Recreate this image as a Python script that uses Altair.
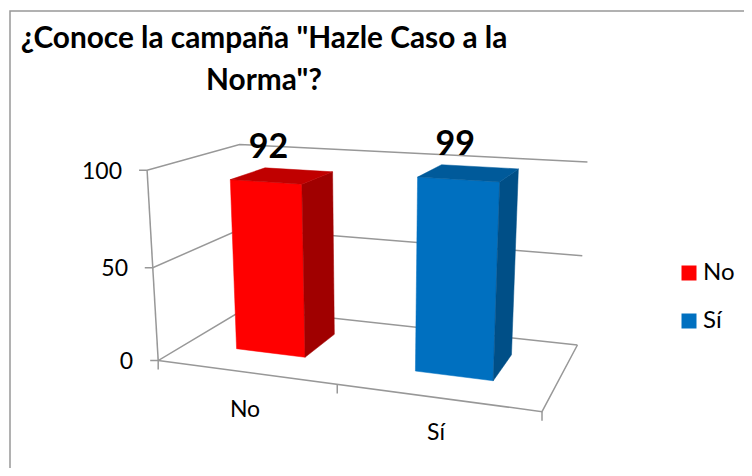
import altair as alt
import numpy as np
import pandas as pd

# ---- chart data ----
categories = ["No", "Sí"]
values = [92, 99]
y_ticks = [0, 50, 100]
title_lines = ['¿Conoce la campaña "Hazle Caso a la', 'Norma"?']
front_colors = ["#FF0000", "#0070C0"]
top_colors = ["#C00000", "#005A9A"]
side_colors = ["#A00000", "#004F87"]
GRID = "#989898"
FONT = "Lato"
XS = alt.Scale(domain=[8, 744], nice=False, zero=False)
YS = alt.Scale(domain=[468, 8], nice=False, zero=False)

# ---- 3D box (category, value, depth) seen on the page: camera fit ----
world = np.array([(0,0,0),(2,0,0),(2,0,1),(0,0,1),(0,100,0),(0,100,1),(2,100,1)], float)
page = np.array([(158.3,360),(542.3,411.7),(577.3,345),(245,309),(146.7,170.7),(240,144),(587.3,162)], float)
rows = []
for (X, Y, Z), (u, v) in zip(world / [1, 100, 1], page / 100):
    rows.append([X, Y, Z, 1, 0, 0, 0, 0, -u*X, -u*Y, -u*Z, -u])
    rows.append([0, 0, 0, 0, X, Y, Z, 1, -v*X, -v*Y, -v*Z, -v])
P = np.linalg.svd(np.array(rows))[2][-1].reshape(3, 4)

def project(c, val, d):
    h = P @ np.array([c, val / 100, d, 1.0])
    return float(h[0] / h[2] * 100), float(h[1] / h[2] * 100)

BAR_HALF = 0.2
DEPTH = (0.31, 0.72)
centers = [0.495, 1.5]

# ---- gray lines ----
segs = []
def seg(*pts):
    sid = len(set(s["s"] for s in segs))
    for i, (x, y) in enumerate(pts):
        segs.append({"s": sid, "i": i, "x": x, "y": y})

seg((10, 468), (10, 11), (744, 11))
seg(project(0, 100, 0), project(0, 0, 0))
for t in y_ticks:
    a = project(0, t, 0)
    seg((a[0] - 8, a[1]), a, project(0, t, 1), project(2, t, 1))
fl, fr, br = project(0, 0, 0), project(2, 0, 0), project(2, 0, 1)
seg(fl, fr, br)
for c in (0, 1, 2):
    a = project(c, 0, 0)
    seg(a, (a[0], a[1] + 9))
lines = (
    alt.Chart(pd.DataFrame(segs))
    .mark_line(color=GRID, strokeWidth=1.5)
    .encode(
        x=alt.X("x:Q", scale=XS, axis=None),
        y=alt.Y("y:Q", scale=YS, axis=None),
        detail="s:N",
        order="i:Q",
    )
)

# ---- bars as faces ----
faces = []
for n, (c, val) in enumerate(zip(centers, values)):
    x0, x1 = c - BAR_HALF, c + BAR_HALF
    z0, z1 = DEPTH
    polys = {
        "front": ([(x0,0,z0),(x1,0,z0),(x1,val,z0),(x0,val,z0)], front_colors[n]),
        "side": ([(x1,0,z0),(x1,0,z1),(x1,val,z1),(x1,val,z0)], side_colors[n]),
        "top": ([(x0,val,z0),(x1,val,z0),(x1,val,z1),(x0,val,z1)], top_colors[n]),
    }
    for name, (pts, col) in polys.items():
        for i, p in enumerate(pts + pts[:1]):
            x, y = project(*p)
            faces.append({"f": f"{n}{name}", "i": i, "x": x, "y": y, "col": col})
bars = (
    alt.Chart(pd.DataFrame(faces))
    .mark_line(strokeWidth=0.5)
    .encode(
        x=alt.X("x:Q", scale=XS, axis=None),
        y=alt.Y("y:Q", scale=YS, axis=None),
        fill=alt.Fill("col:N", scale=None),
        stroke=alt.Stroke("col:N", scale=None),
        detail="f:N",
        order="i:Q",
    )
)

def text_layer(df, size, bold=False, align="center"):
    return (
        alt.Chart(df)
        .mark_text(font=FONT, fontSize=size, fontWeight="bold" if bold else "normal",
                   align=align, baseline="middle", color="#000000")
        .encode(
            x=alt.X("x:Q", scale=XS, axis=None),
            y=alt.Y("y:Q", scale=YS, axis=None),
            text="t:N",
        )
    )

# data labels
lab = []
for c, val in zip(centers, values):
    x, y = project(c, val, sum(DEPTH) / 2)
    lab.append({"x": x - 14, "y": y - 28, "t": str(val)})
data_labels = text_layer(pd.DataFrame(lab), 34, bold=True)

# value axis labels
ends = {100: 122, 50: 128, 0: 133}
ylab = pd.DataFrame([{"x": ends[t], "y": project(0, t, 0)[1] + 1.5, "t": str(t)} for t in y_ticks])
y_labels = text_layer(ylab, 23, align="right")

# category labels
cat_pos = [(245, 410), (436, 433)]
cat_labels = text_layer(
    pd.DataFrame([{"x": p[0], "y": p[1], "t": c} for p, c in zip(cat_pos, categories)]), 23
)

# legend
legend_layer = (
    alt.Chart(pd.DataFrame({"c": categories}))
    .mark_square(size=0)
    .encode(
        x=alt.value(-50),
        y=alt.value(-50),
        color=alt.Color(
            "c:N",
            scale=alt.Scale(domain=categories, range=front_colors),
            legend=alt.Legend(
                title=None, orient="none", legendX=669, legendY=253,
                symbolType="square", symbolSize=225, symbolStrokeWidth=0, symbolOpacity=1,
                labelFont=FONT, labelFontSize=24, labelColor="#000000",
                labelOffset=2, rowPadding=24,
            ),
        ),
    )
)

chart = (
    alt.layer(lines, bars, data_labels, y_labels, cat_labels, legend_layer)
    .properties(
        width=736, height=460, padding=0, autosize=alt.AutoSizeParams(type="none"),
        background="#FFFFFF",
        title=alt.TitleParams(
            text=title_lines, orient="none", anchor="start", align="center",
            dx=256, dy=31, font=FONT, fontSize=29.8, fontWeight="bold",
            color="#000000", lineHeight=42, baseline="middle",
        ),
    )
    .configure_view(stroke=None)
)
chart.save("out.html", embed_options={"renderer": "svg", "actions": False})
